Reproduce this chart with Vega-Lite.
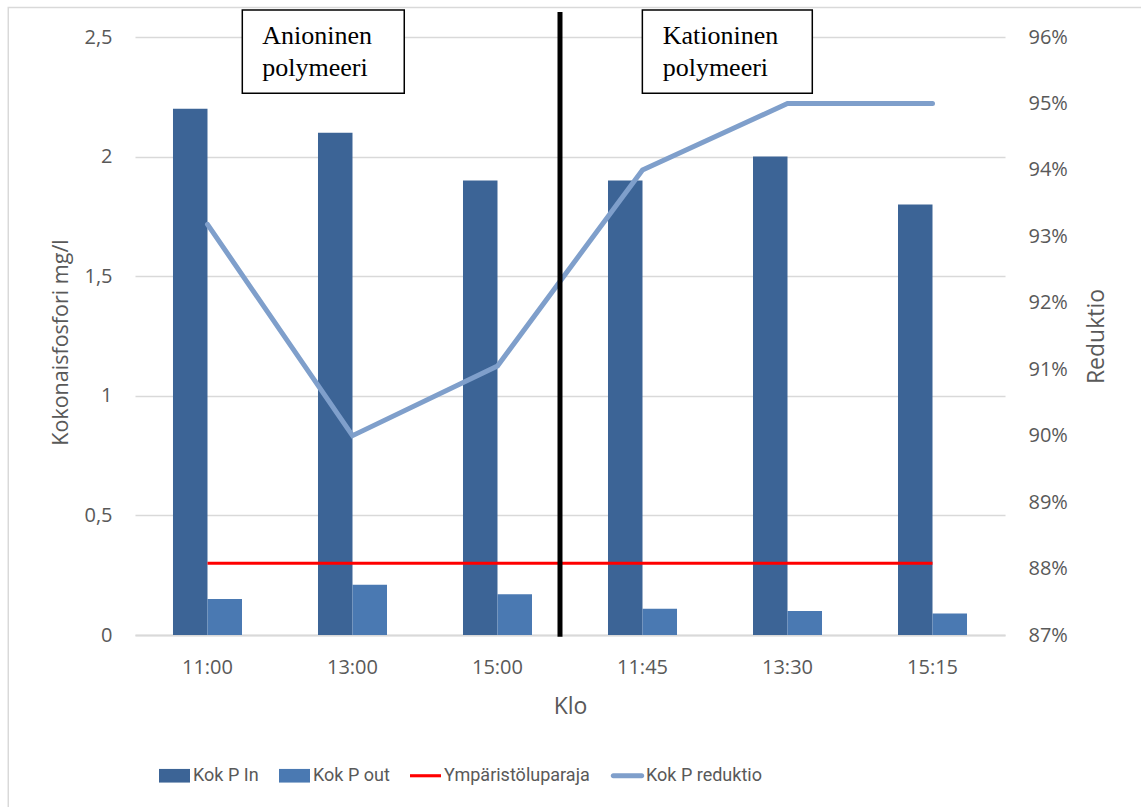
{
  "$schema": "https://vega.github.io/schema/vega-lite/v6.json",
  "width": 870,
  "height": 598,
  "autosize": {"type": "none"},
  "padding": {"left": 135, "top": 37, "right": 136, "bottom": 172},
  "background": "white",
  "config": {
    "font": "Open Sans",
    "view": {"stroke": null},
    "axis": {"labelColor": "#595959", "titleColor": "#595959", "titleFontWeight": "normal"}
  },
  "datasets": {
    "mittaukset": [
      {"klo": "11:00", "Kok P In": 2.2, "Kok P out": 0.15, "Ympäristöluparaja": 0.3, "Kok P reduktio": 0.9318},
      {"klo": "13:00", "Kok P In": 2.1, "Kok P out": 0.21, "Ympäristöluparaja": 0.3, "Kok P reduktio": 0.90},
      {"klo": "15:00", "Kok P In": 1.9, "Kok P out": 0.17, "Ympäristöluparaja": 0.3, "Kok P reduktio": 0.9105},
      {"klo": "11:45", "Kok P In": 1.9, "Kok P out": 0.11, "Ympäristöluparaja": 0.3, "Kok P reduktio": 0.94},
      {"klo": "13:30", "Kok P In": 2.0, "Kok P out": 0.10, "Ympäristöluparaja": 0.3, "Kok P reduktio": 0.95},
      {"klo": "15:15", "Kok P In": 1.8, "Kok P out": 0.09, "Ympäristöluparaja": 0.3, "Kok P reduktio": 0.95}
    ]
  },
  "layer": [
    {
      "description": "Outer chart frame on a plain 0-6 position scale",
      "data": {"values": [{"kehys": "ulko"}]},
      "layer": [
        {
          "mark": {"type": "rect", "fill": null, "stroke": "#D9D9D9", "strokeWidth": 1.5, "clip": false},
          "encoding": {
            "x": {"datum": -0.874, "type": "quantitative", "scale": {"domain": [0, 6], "nice": false, "zero": false}, "axis": null},
            "x2": {"datum": 9},
            "y": {"datum": 2.623, "type": "quantitative", "scale": {"domain": [0, 2.5], "nice": false}, "axis": null},
            "y2": {"datum": -2}
          }
        }
      ]
    },
    {
      "data": {"name": "mittaukset"},
      "layer": [
        {
          "transform": [{"fold": ["Kok P In", "Kok P out"], "as": ["sarja", "arvo"]}],
          "mark": {"type": "bar"},
          "encoding": {
            "xOffset": {"field": "sarja", "type": "nominal", "scale": {"domain": ["Kok P In", "Kok P out"], "paddingInner": 0, "paddingOuter": 0}},
            "y": {"field": "arvo", "type": "quantitative"},
            "color": {"field": "sarja", "type": "nominal"}
          }
        },
        {
          "transform": [{"fold": ["Ympäristöluparaja"], "as": ["sarja", "arvo"]}],
          "mark": {"type": "line", "strokeWidth": 3.2},
          "encoding": {
            "y": {"field": "arvo", "type": "quantitative"},
            "color": {"field": "sarja", "type": "nominal"}
          }
        }
      ],
      "encoding": {
        "x": {
          "field": "klo", "type": "nominal", "sort": null,
          "scale": {"domain": ["11:00", "13:00", "15:00", "11:45", "13:30", "15:15"], "paddingInner": 0.5241, "paddingOuter": 0.262},
          "axis": {
            "title": "Klo", "titleFontSize": 23, "titleBaseline": "alphabetic", "titleY": 78,
            "labelFontSize": 20, "labelAngle": 0, "labelBaseline": "alphabetic", "labelPadding": 38,
            "ticks": false, "tickSize": 0, "domainColor": "#D9D9D9", "domainWidth": 2, "grid": false
          }
        },
        "y": {
          "type": "quantitative",
          "scale": {"domain": [0, 2.5], "nice": false},
          "axis": {
            "title": "Kokonaisfosfori mg/l", "titleFontSize": 21.5, "titleBaseline": "alphabetic", "titleX": -68, "titleY": 305, "titleAngle": -90,
            "values": [0, 0.5, 1, 1.5, 2, 2.5],
            "labelExpr": "replace(toString(datum.value), '.', ',')",
            "labelFontSize": 20, "labelPadding": 23,
            "ticks": false, "tickSize": 0, "domain": false,
            "grid": true, "gridColor": "#D9D9D9", "gridWidth": 1.5
          }
        }
      }
    },
    {
      "data": {"name": "mittaukset"},
      "transform": [{"fold": ["Kok P reduktio"], "as": ["sarja", "arvo"]}],
      "mark": {"type": "line", "strokeWidth": 5, "strokeCap": "round", "strokeJoin": "miter"},
      "encoding": {
        "x": {
          "field": "klo", "type": "nominal", "sort": null,
          "scale": {"domain": ["11:00", "13:00", "15:00", "11:45", "13:30", "15:15"], "paddingInner": 0.5241, "paddingOuter": 0.262},
          "axis": null
        },
        "y": {
          "field": "arvo", "type": "quantitative",
          "scale": {"domain": [0.87, 0.96], "nice": false, "zero": false},
          "axis": {
            "orient": "right", "title": "Reduktio", "titleFontSize": 23, "titleBaseline": "alphabetic", "titleX": 98, "titleAngle": -90,
            "values": [0.87, 0.88, 0.89, 0.9, 0.91, 0.92, 0.93, 0.94, 0.95, 0.96],
            "format": ".0%", "labelFontSize": 20, "labelPadding": 23,
            "ticks": false, "tickSize": 0, "domain": false, "grid": false
          }
        },
        "color": {
          "field": "sarja", "type": "nominal",
          "scale": {
            "domain": ["Kok P In", "Kok P out", "Ympäristöluparaja", "Kok P reduktio"],
            "range": ["#3C6496", "#4A79B2", "#FF0000", "#7F9FCB"]
          },
          "legend": {
            "title": null, "orient": "none", "direction": "horizontal",
            "legendX": 24, "legendY": 723, "padding": 0,
            "symbolSize": 961, "symbolStrokeWidth": 0, "symbolType": "square",
            "labelFont": "Roboto", "labelFontSize": 18, "labelColor": "#595959",
            "labelOffset": 3, "columnPadding": 20,
            "encode": {
              "symbols": {
                "update": {
                  "shape": {"signal": "datum.value == 'Kok P In' || datum.value == 'Kok P out' ? 'M-1,-0.44H1V0.44H-1Z' : (datum.value == 'Ympäristöluparaja' ? 'M-1,-0.1H1V0.1H-1Z' : 'M-0.92,-0.16H0.92A0.16,0.16,0,0,1,0.92,0.16H-0.92A0.16,0.16,0,0,1,-0.92,-0.16Z')"},
                  "fill": {"signal": "scale('color', datum.value)"},
                  "strokeWidth": {"value": 0},
                  "opacity": {"value": 1}
                }
              }
            }
          }
        }
      }
    },
    {
      "description": "Polymer phase divider and labels",
      "data": {"values": [{"vaihe": "jako"}]},
      "layer": [
        {
          "mark": {"type": "rule", "color": "black", "strokeWidth": 5, "clip": false},
          "encoding": {
            "x": {"datum": 2.931, "type": "quantitative"},
            "y": {"datum": 2.605, "type": "quantitative"},
            "y2": {"datum": -0.007}
          }
        },
        {
          "mark": {"type": "rect", "fill": "white", "stroke": "black", "strokeWidth": 1.5, "clip": false},
          "encoding": {
            "x": {"datum": 0.74, "type": "quantitative"},
            "x2": {"datum": 1.857},
            "y": {"datum": 2.613, "type": "quantitative"},
            "y2": {"datum": 2.265}
          }
        },
        {
          "mark": {"type": "rect", "fill": "white", "stroke": "black", "strokeWidth": 1.5, "clip": false},
          "encoding": {
            "x": {"datum": 3.499, "type": "quantitative"},
            "x2": {"datum": 4.671},
            "y": {"datum": 2.613, "type": "quantitative"},
            "y2": {"datum": 2.265}
          }
        },
        {
          "mark": {"type": "text", "font": "Liberation Serif", "fontSize": 26, "color": "black", "align": "left", "baseline": "alphabetic", "lineHeight": 31.5, "clip": false},
          "encoding": {
            "x": {"datum": 0.878, "type": "quantitative"},
            "y": {"datum": 2.469, "type": "quantitative"},
            "text": {"value": ["Anioninen", "polymeeri"]}
          }
        },
        {
          "mark": {"type": "text", "font": "Liberation Serif", "fontSize": 26, "color": "black", "align": "left", "baseline": "alphabetic", "lineHeight": 31.5, "clip": false},
          "encoding": {
            "x": {"datum": 3.639, "type": "quantitative"},
            "y": {"datum": 2.469, "type": "quantitative"},
            "text": {"value": ["Kationinen", "polymeeri"]}
          }
        }
      ],
      "encoding": {
        "x": {"type": "quantitative", "scale": {"domain": [0, 6], "nice": false, "zero": false}, "axis": null},
        "y": {"type": "quantitative", "scale": {"domain": [0, 2.5], "nice": false}, "axis": null}
      }
    }
  ],
  "resolve": {"scale": {"x": "independent", "y": "independent"}}
}
